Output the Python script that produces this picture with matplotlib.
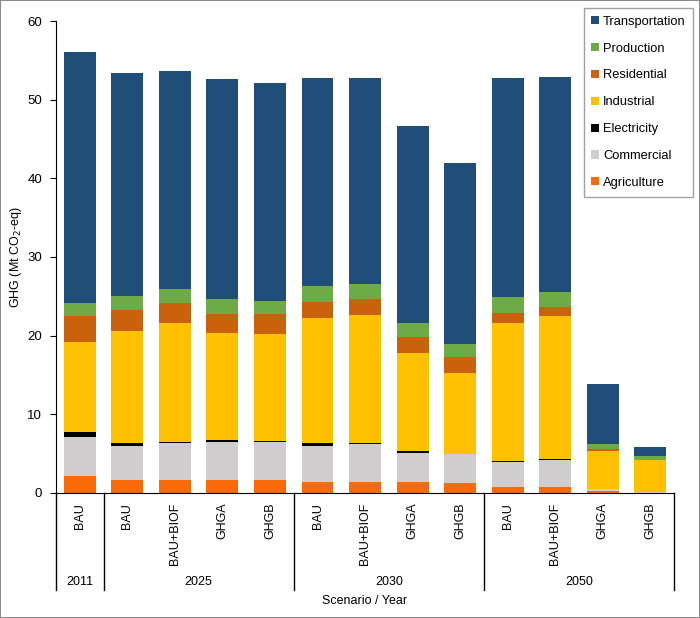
import matplotlib.pyplot as plt
from matplotlib.patches import Patch
import numpy as np

plt.rcParams['font.family'] = ['Liberation Sans', 'DejaVu Sans']

scenarios = ["BAU", "BAU", "BAU+BIOF", "GHGA", "GHGB", "BAU", "BAU+BIOF", "GHGA", "GHGB",
             "BAU", "BAU+BIOF", "GHGA", "GHGB"]
years = ["2011", "2025", "2030", "2050"]
group_sizes = [1, 4, 4, 4]

# bottom -> top
agriculture    = [2.1, 1.6, 1.6, 1.6, 1.6, 1.4, 1.4, 1.4, 1.3, 0.7, 0.7, 0.2, 0.05]
commercial     = [5.0, 4.4, 4.8, 4.9, 4.9, 4.6, 4.8, 3.7, 3.6, 3.3, 3.5, 0.3, 0.1]
electricity    = [0.7, 0.3, 0.1, 0.2, 0.1, 0.3, 0.1, 0.3, 0.0, 0.1, 0.1, 0.0, 0.0]
industrial     = [11.4, 14.3, 15.1, 13.6, 13.6, 15.9, 16.3, 12.4, 10.3, 17.5, 18.2, 4.8, 4.0]
residential    = [3.3, 2.7, 2.6, 2.5, 2.6, 2.1, 2.1, 2.0, 2.1, 1.3, 1.2, 0.3, 0.05]
production     = [1.6, 1.8, 1.7, 1.8, 1.6, 2.0, 1.9, 1.8, 1.6, 2.0, 1.9, 0.65, 0.45]
transportation = [31.9, 28.3, 27.8, 28.0, 27.7, 26.4, 26.1, 25.0, 23.1, 27.8, 27.3, 7.55, 1.25]

sectors = [
    ("Agriculture", agriculture, "#F96A0B"),
    ("Commercial", commercial, "#CFCDCD"),
    ("Electricity", electricity, "#000000"),
    ("Industrial", industrial, "#FFC000"),
    ("Residential", residential, "#C9620A"),
    ("Production", production, "#6EAA46"),
    ("Transportation", transportation, "#1F4E79"),
]

fig = plt.figure(figsize=(7, 6.18), dpi=100, edgecolor="#8a8a8a", linewidth=1.2)
ax = fig.add_axes([0.08, 0.2023, 0.883, 0.7637])

x = np.arange(len(scenarios))
bottom = np.zeros(len(scenarios))
for name, vals, color in sectors:
    ax.bar(x, vals, bottom=bottom, width=0.67, color=color, linewidth=0)
    bottom += np.array(vals)

ax.set_xlim(-0.5, len(scenarios) - 0.5)
ax.set_ylim(0, 60)
ax.set_yticks(range(0, 61, 10))
ax.tick_params(axis="y", labelsize=9.5, length=4, pad=6, color="black")
ax.spines["top"].set_visible(False)
ax.spines["right"].set_visible(False)
ax.set_ylabel("GHG (Mt CO$_2$-eq)", fontsize=9)
ax.yaxis.set_label_coords(-0.051, 0.5)

ax.set_xticks(x)
ax.set_xticklabels(scenarios, rotation=90, fontsize=9, va="top")
ax.tick_params(axis="x", length=0, pad=7)

# group separators and year labels
trans = ax.get_xaxis_transform()
edges = np.concatenate([[0], np.cumsum(group_sizes)]) - 0.5
for e in edges:
    ax.plot([e, e], [0, -0.2055], transform=trans, color="black", lw=1, clip_on=False)
for i, yr in enumerate(years):
    mid = (edges[i] + edges[i + 1]) / 2
    ax.text(mid, -0.1886, yr, transform=trans, ha="center", va="center", fontsize=9)
ax.text(0.5, -0.229, "Scenario / Year", transform=ax.transAxes, ha="center", va="center",
        fontsize=9)

handles = [Patch(facecolor=c, label=n) for n, v, c in reversed(sectors)]
leg = ax.legend(handles=handles, loc="upper right", bbox_to_anchor=(1.031, 1.0275),
                fontsize=9.3, handlelength=0.6, handleheight=0.6, handletextpad=0.3,
                labelspacing=1.15, borderpad=0.6, borderaxespad=0, fancybox=False,
                edgecolor="#8a8a8a")
leg.get_frame().set_linewidth(1.0)

plt.savefig("out.png", dpi=100)
